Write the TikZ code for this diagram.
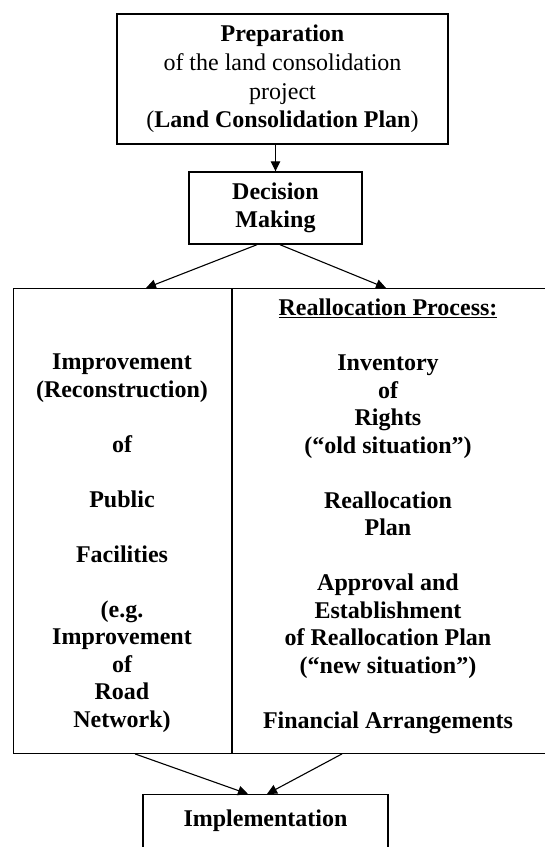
\documentclass[tikz,border=0pt]{standalone}
\usepackage{fontspec}
\setmainfont{Liberation Serif}
\usetikzlibrary{arrows.meta}
\begin{document}
\begin{tikzpicture}[x=1pt,y=-1pt,
  box/.style={draw, line width=1.4pt, inner sep=0pt},
  txt/.style={font=\fontsize{24}{27.5}\selectfont\bfseries, align=center, inner sep=0pt},
  arr/.style={line width=1.1pt, -{Triangle[length=10pt,width=9.5pt]}}
]
\useasboundingbox (0,0) rectangle (545,847);
\fill[white] (0,0) rectangle (545,847);
\clip (0,0) rectangle (545,847);
% boxes
\node[box, minimum width=331pt, minimum height=130pt, align=center,
      font=\fontsize{24}{28.7}\selectfont] (prep) at (282.5,79)
  {\textbf{Preparation}\\of the land consolidation\\project\\(\textbf{Land Consolidation Plan})};
\node[box, minimum width=173pt, minimum height=72pt, align=center,
      font=\fontsize{24}{28}\selectfont\bfseries] (dec) at (275.5,208) {Decision\\Making};
\node[box, minimum width=218.5pt, minimum height=464.5pt, anchor=north west] (left) at (13,288) {};
\node[box, minimum width=330pt, minimum height=464.5pt, anchor=north west] (right) at (231,288) {};
\node[box, minimum width=245pt, anchor=north, text height=32pt, text depth=40pt,
      font=\fontsize{24}{28}\selectfont\bfseries] (impl) at (265.5,794) {Implementation};
% column texts
\node[txt, anchor=north] (lt) at (122,354)
  {Improvement\\(Reconstruction)\\[27.5pt]of\\[27.5pt]Public\\[27.5pt]Facilities\\[27.5pt](e.g.\\Improvement\\of\\Road\\Network)};
\node[txt, anchor=north] (rt) at (388,299)
  {\underline{Reallocation Process:}\\[27.5pt]Inventory\\of\\Rights\\(“old situation”)\\[27.5pt]Reallocation\\Plan\\[27.5pt]Approval and\\Establishment\\of Reallocation Plan\\(“new situation”)\\[27.5pt]Financial Arrangements};
% connector points
\coordinate (dl) at ([xshift=-18.5pt]dec.south);
\coordinate (dr) at ([xshift=4.5pt]dec.south);
\coordinate (lt1) at ([xshift=133pt]left.north west);
\coordinate (rt1) at ([xshift=155pt]right.north west);
\coordinate (lb) at ([xshift=122pt]left.south west);
\coordinate (rb) at ([xshift=111pt]right.south west);
\coordinate (i1) at ([xshift=-17.5pt]impl.north);
\coordinate (i2) at ([xshift=1.5pt]impl.north);
% arrows
\draw[arr] (prep.south -| dec.north) -- (dec.north);
\draw[arr] (dl) -- (lt1);
\draw[arr] (dr) -- (rt1);
\draw[arr] (lb) -- (i1);
\draw[arr] (rb) -- (i2);
\end{tikzpicture}
\end{document}
